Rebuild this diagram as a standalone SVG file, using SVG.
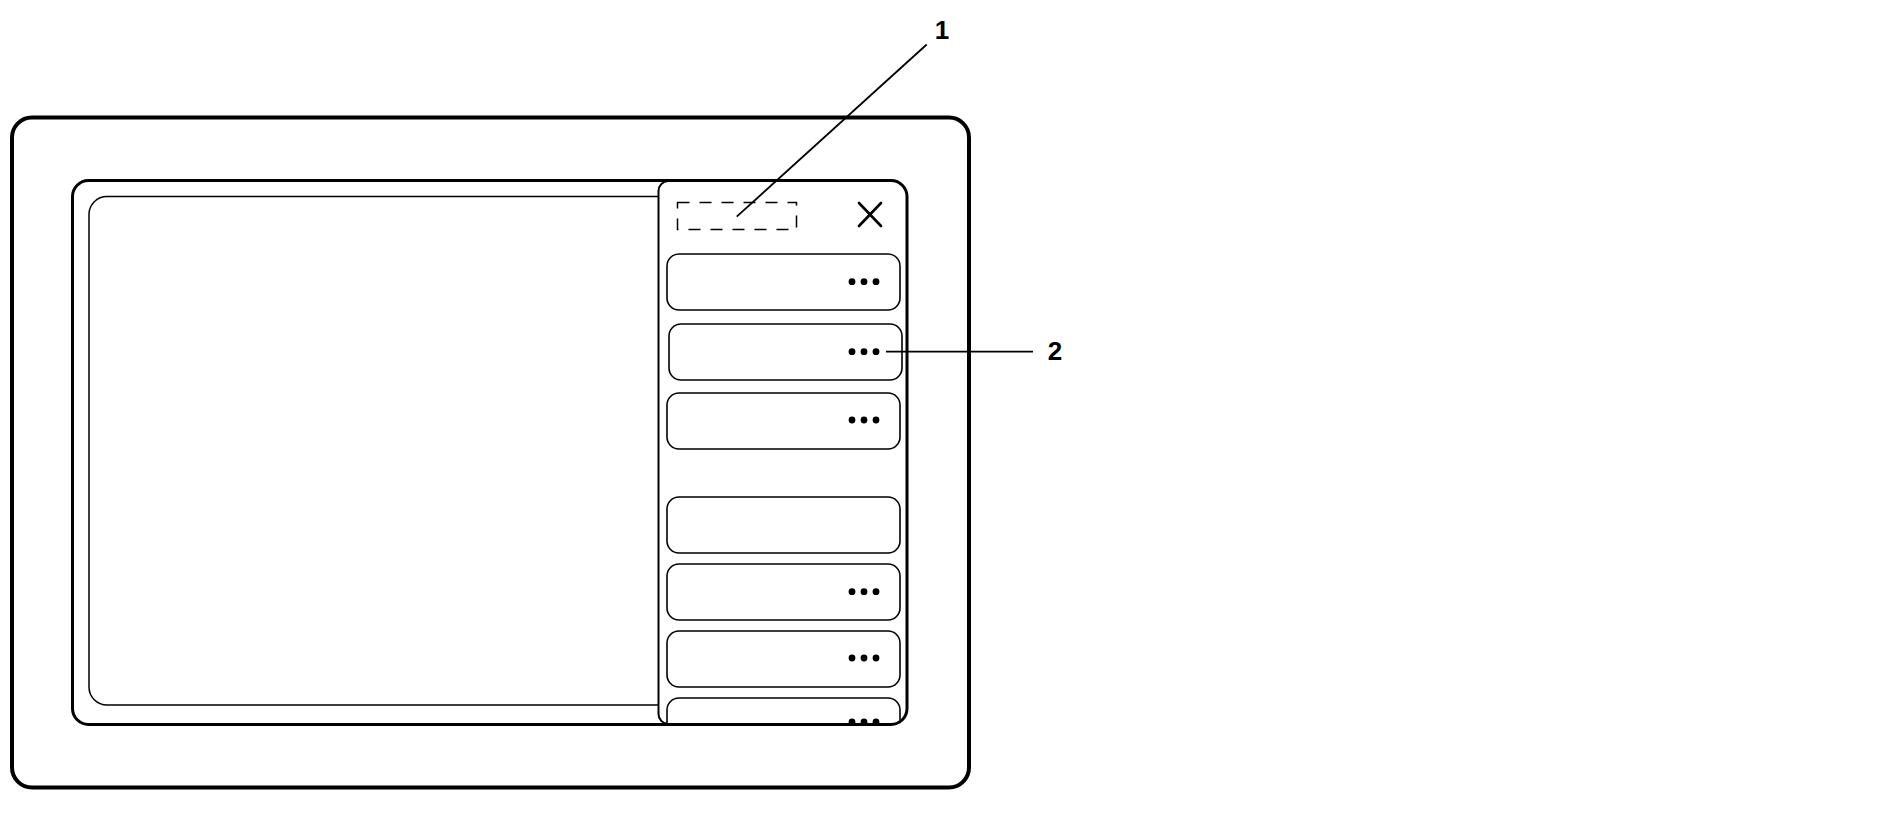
<svg xmlns="http://www.w3.org/2000/svg" width="1897" height="836" viewBox="0 0 1897 836">
<style>
.frame{fill:none;stroke:#000}
.item{fill:#fff;stroke:#000;stroke-width:1.6}
.dot{fill:#000}
.lead{stroke:#000;stroke-width:1.8;fill:none}
.lbl{font-family:"Liberation Sans",Arial,sans-serif;font-weight:bold;font-size:26px;fill:#000;text-anchor:middle}
</style>
<defs>
<clipPath id="screenClip"><rect x="74" y="182" width="831.5" height="541.5" rx="15"/></clipPath>
<g id="dots3"><circle cx="0" cy="0" r="3.4"/><circle cx="12" cy="0" r="3.4"/><circle cx="24" cy="0" r="3.4"/></g>
</defs>
<rect width="1897" height="836" fill="#fff"/>
<g id="device">
<rect class="frame" x="12" y="117.5" width="957" height="670" rx="20" stroke-width="4"/>
</g>
<g id="content-panel">
<path class="frame" stroke-width="1.5" d="M 658 196.5 H 107 A 18 18 0 0 0 89 214.5 V 687 A 18 18 0 0 0 107 705 H 658"/>
</g>
<g id="sidebar">
<path clip-path="url(#screenClip)" fill="#fff" stroke="none" d="M 906 182 H 668 A 10 10 0 0 0 658.5 192 V 713 A 10 10 0 0 0 668 723 H 906 Z"/>
<path fill="none" stroke="#000" stroke-width="2" d="M 672 181 H 668 A 10 10 0 0 0 658.5 191 V 714 A 10 10 0 0 0 668 724 H 672"/>
<rect x="677.5" y="202.5" width="119" height="27" fill="none" stroke="#000" stroke-width="1.5" stroke-dasharray="12 10"/>
<g id="close" stroke="#000" stroke-width="2.6" stroke-linecap="round">
<line x1="859" y1="203" x2="881" y2="226"/>
<line x1="881" y1="203" x2="859" y2="226"/>
</g>
</g>
<g clip-path="url(#screenClip)">
<g id="item1"><rect class="item" x="667" y="254" width="233" height="56" rx="12"/><use href="#dots3" class="dot" x="852" y="281.7"/></g>
<g id="item2"><rect class="item" x="669" y="324" width="233" height="56" rx="12"/><use href="#dots3" class="dot" x="852" y="351.7"/></g>
<g id="item3"><rect class="item" x="667" y="393" width="233" height="56" rx="12"/><use href="#dots3" class="dot" x="852" y="420"/></g>
<g id="item4"><rect class="item" x="667" y="497" width="233" height="56" rx="12"/></g>
<g id="item5"><rect class="item" x="667" y="564" width="233" height="56" rx="12"/><use href="#dots3" class="dot" x="852" y="591.7"/></g>
<g id="item6"><rect class="item" x="667" y="631" width="233" height="56" rx="12"/><use href="#dots3" class="dot" x="852" y="658"/></g>
<g id="item7"><rect class="item" x="667" y="698" width="233" height="56" rx="12"/><use href="#dots3" class="dot" x="852" y="722"/></g>
</g>
<g id="screen">
<rect class="frame" x="72.5" y="180.5" width="834.5" height="544" rx="16" stroke-width="3"/>
</g>
<g id="connectors">
<line class="lead" x1="926.7" y1="44.5" x2="736.7" y2="216.7"/>
<line class="lead" x1="886" y1="351.7" x2="1033" y2="351.7"/>
</g>
<g id="label1"><text class="lbl" x="942" y="38.5">1</text></g>
<g id="label2"><text class="lbl" x="1055" y="360">2</text></g>
</svg>
